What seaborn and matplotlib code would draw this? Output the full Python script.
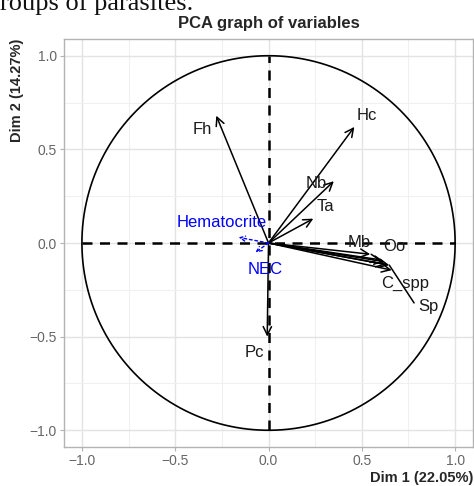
import numpy as np
import pandas as pd
import matplotlib
matplotlib.use("Agg")
import matplotlib.pyplot as plt
import seaborn as sns

# Active variables
act_names = ["Fh", "Hc", "Nb", "Ta", "Mb", "Oo", "", "", "Sp", "C_spp", "Pc"]
act_x = [-0.28, 0.46, 0.35, 0.24, 0.545, 0.60, 0.62, 0.63, 0.647, 0.66, -0.007]
act_y = [0.68, 0.62, 0.33, 0.13, -0.06, -0.09, -0.10, -0.115, -0.118, -0.145, -0.50]
# label positions (data units)
act_lx = [-0.353, 0.529, 0.257, 0.307, 0.487, 0.676, None, None, 0.856, 0.733, -0.075]
act_ly = [0.604, 0.679, 0.316, 0.193, 0.005, -0.021, None, None, -0.337, -0.214, -0.583]
# leader segment end (for repelled label)
lead_names = ["Sp"]
lead_x = [0.78]
lead_y = [-0.32]

# Supplementary variables
sup_names = ["Hematocrite", "NEC"]
sup_x = [-0.16, -0.07]
sup_y = [0.03, -0.05]
sup_lx = [-0.251, -0.02]
sup_ly = [0.107, -0.139]

sns.set_theme(style="whitegrid")
plt.rcParams['font.family'] = ['Liberation Sans', 'DejaVu Sans']

fig = plt.figure(figsize=(4.74, 4.86), dpi=100)
ax = fig.add_axes([0.135, 0.080, 0.863, 0.840])
ax.set_facecolor("white")

# unit circle
theta = np.linspace(0, 2 * np.pi, 400)
circ = pd.DataFrame({"x": np.cos(theta), "y": np.sin(theta)})
sns.lineplot(data=circ, x="x", y="y", sort=False, color="black", lw=1.2, ax=ax, estimator=None)

ax.plot([-1, 1], [0, 0], ls=(0, (4, 3)), color="black", lw=1.8)
ax.plot([0, 0], [-1, 1], ls=(0, (4, 3)), color="black", lw=1.8)

for i in range(len(act_x)):
    ax.annotate("", xy=(act_x[i], act_y[i]), xytext=(0, 0),
                arrowprops=dict(arrowstyle="->,head_length=0.5,head_width=0.25",
                                color="black", lw=1.1, shrinkA=0, shrinkB=0))
    if act_names[i]:
        ax.text(act_lx[i], act_ly[i], act_names[i], ha="center", va="center",
                fontsize=12, color="#1a1a1a")
    if act_names[i] in lead_names:
        j = lead_names.index(act_names[i])
        ax.plot([act_x[i], lead_x[j]], [act_y[i], lead_y[j]], color="black", lw=1.1)

for i in range(len(sup_x)):
    ax.annotate("", xy=(sup_x[i], sup_y[i]), xytext=(0, 0),
                arrowprops=dict(arrowstyle="->,head_length=0.3,head_width=0.15",
                                color="blue", lw=1.0, ls=(0, (2, 2)), shrinkA=0, shrinkB=0))
    ax.text(sup_lx[i], sup_ly[i], sup_names[i], ha="center", va="center",
            fontsize=12, color="blue")

ax.set_xlim(-1.096, 1.096)
ax.set_ylim(-1.09, 1.09)
ticks = [-1.0, -0.5, 0.0, 0.5, 1.0]
ax.set_xticks(ticks)
ax.set_yticks(ticks)
ax.set_xticklabels(["\u22121.0", "\u22120.5", "0.0", "0.5", "1.0"])
ax.set_yticklabels(["\u22121.0", "\u22120.5", "0.0", "0.5", "1.0"])
ax.set_xticks([-0.75, -0.25, 0.25, 0.75], minor=True)
ax.set_yticks([-0.75, -0.25, 0.25, 0.75], minor=True)
ax.grid(which="major", color="#e3e3e3", lw=1.0)
ax.grid(which="minor", color="#f0f0f0", lw=0.8)
ax.tick_params(axis="both", which="major", labelsize=10, labelcolor="#666666",
               length=3, color="#b3b3b3", width=0.8, pad=2, bottom=True, left=True)
ax.tick_params(axis="both", which="minor", length=0)
for s in ax.spines.values():
    s.set_color("#b3b3b3")
    s.set_linewidth(1.0)

ax.set_xlabel("Dim 1 (22.05%)", fontsize=10.5, fontweight="bold", loc="right", labelpad=2)
ax.set_ylabel("Dim 2 (14.27%)", fontsize=10.5, fontweight="bold", loc="top", labelpad=4)
ax.set_title("PCA graph of variables", fontsize=12, fontweight="bold", pad=8)

fig.text(0.0, 1.0 - 4 / 486, "roups of parasites.", family=["Liberation Serif", "DejaVu Serif"],
         fontsize=19, ha="left", va="center", color="#111111")

fig.savefig("out.png", dpi=100)
